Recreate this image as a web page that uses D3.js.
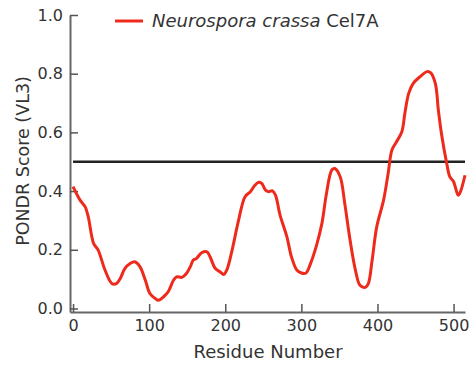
<!DOCTYPE html>
<html>
<head>
<meta charset="utf-8">
<script src="https://cdn.jsdelivr.net/npm/d3@7"></script>
<style>
  body { margin: 0; background: #fff; }
  svg text { font-family: "DejaVu Sans", sans-serif; fill: #333; }
</style>
</head>
<body>
<div id="chart"></div>
<script>
// PONDR VL3 disorder profile
var residues = [0, 9, 16, 20, 27, 33, 42, 51, 57, 62, 68, 75, 81, 88, 95, 101, 108, 112, 119, 125, 132, 136, 143,
   149, 154, 158, 162, 169, 176, 180, 187, 193, 198, 202, 209, 217, 226, 233, 239, 244, 248, 253, 257, 262, 266,
   272, 281, 287, 294, 300, 306, 312, 320, 327, 333, 340, 344, 351, 357, 364, 371, 377, 384, 388, 393, 399, 408,
   414, 419, 425, 432, 436, 441, 447, 456, 465, 470, 476, 480, 484, 491, 495, 500, 506, 509, 515];
var scores = [0.415, 0.37, 0.346, 0.312, 0.222, 0.199, 0.131, 0.085, 0.085, 0.102, 0.136, 0.153, 0.159, 0.142, 0.096,
   0.051, 0.034, 0.028, 0.04, 0.057, 0.096, 0.108, 0.106, 0.119, 0.142, 0.165, 0.17, 0.19, 0.193, 0.176, 0.136,
   0.125, 0.116, 0.131, 0.199, 0.295, 0.381, 0.398, 0.42, 0.43, 0.426, 0.403, 0.398, 0.401, 0.386, 0.318, 0.244,
   0.176, 0.131, 0.121, 0.121, 0.153, 0.216, 0.29, 0.392, 0.472, 0.477, 0.449, 0.358, 0.233, 0.131, 0.079, 0.072,
   0.085, 0.165, 0.278, 0.369, 0.46, 0.54, 0.568, 0.602, 0.665, 0.733, 0.767, 0.79, 0.807, 0.803, 0.767, 0.676,
   0.597, 0.494, 0.449, 0.432, 0.386, 0.398, 0.454];
var thresholdX = [0, 515];
var threshold = 0.5;
var xTicks = [0, 100, 200, 300, 400, 500];
var yTicks = [0, 0.2, 0.4, 0.6, 0.8, 1.0];
var seriesName = ["Neurospora crassa", " Cel7A"];

var width = 473, height = 369;

var x = d3.scaleLinear().domain([-4, 515]).range([70, 465]);
var y = d3.scaleLinear().domain([-0.012, 1.0]).range([312, 15]);

var svg = d3.select("#chart").append("svg")
   .attr("width", width)
   .attr("height", height);

// axes, ticks pointing into the plot
var xAxis = svg.append("g")
   .attr("transform", "translate(0," + y(-0.012) + ")")
   .call(d3.axisBottom(x).tickValues(xTicks).tickSizeInner(-8).tickSizeOuter(0).tickPadding(8));
var yAxis = svg.append("g")
   .attr("transform", "translate(" + x(-4) + ",0)")
   .call(d3.axisLeft(y).tickValues(yTicks).tickFormat(d3.format(".1f")).tickSizeInner(-8).tickSizeOuter(0).tickPadding(7));

[xAxis, yAxis].forEach(function(g) {
   g.select(".domain").attr("stroke", "#666").attr("stroke-width", 2);
   g.selectAll(".tick line").attr("stroke", "#555").attr("stroke-width", 1.5);
   g.selectAll(".tick text").attr("font-size", 16).attr("fill", "#333")
      .attr("font-family", "DejaVu Sans, sans-serif");
});

// threshold
svg.append("line")
   .attr("x1", x(thresholdX[0])).attr("x2", x(thresholdX[1]))
   .attr("y1", y(threshold)).attr("y2", y(threshold))
   .attr("stroke", "#222").attr("stroke-width", 2.5);

var line = d3.line()
   .x(function(d, i) { return x(residues[i]); })
   .y(function(d) { return y(d); })
   .curve(d3.curveCatmullRom);

svg.append("path")
   .datum(scores)
   .attr("fill", "none")
   .attr("stroke", "#ee2a1c")
   .attr("stroke-width", 3)
   .attr("stroke-linejoin", "round")
   .attr("d", line);

// axis titles
svg.append("text")
   .attr("x", 268).attr("y", 358)
   .attr("text-anchor", "middle")
   .attr("font-size", 18)
   .text("Residue Number");

svg.append("text")
   .attr("transform", "translate(29,161) rotate(-90)")
   .attr("text-anchor", "middle")
   .attr("font-size", 17.5)
   .text("PONDR Score (VL3)");

// legend
svg.append("line")
   .attr("x1", 115).attr("x2", 143)
   .attr("y1", 21).attr("y2", 21)
   .attr("stroke", "#ee2a1c").attr("stroke-width", 3);

var leg = svg.append("text")
   .attr("x", 152).attr("y", 27)
   .attr("font-size", 18);
leg.append("tspan").attr("font-style", "italic").text(seriesName[0]);
leg.append("tspan").text(seriesName[1]);
</script>
</body>
</html>
